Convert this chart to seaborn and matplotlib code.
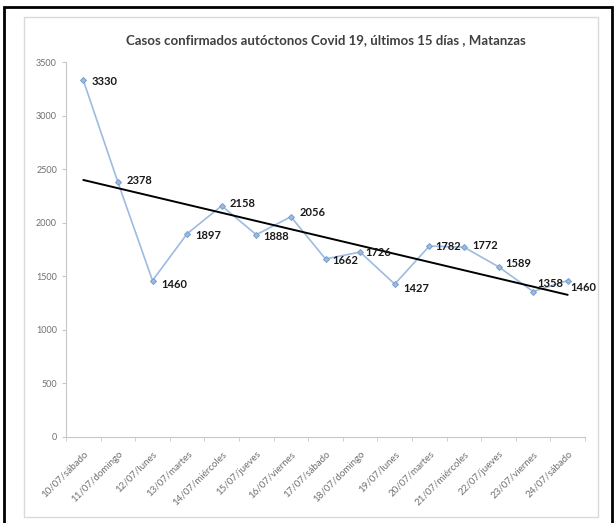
import numpy as np
import pandas as pd
import matplotlib
matplotlib.use("Agg")
import matplotlib.pyplot as plt
import seaborn as sns

fechas = ["10/07/sábado", "11/07/domingo", "12/07/lunes", "13/07/martes",
          "14/07/miércoles", "15/07/jueves", "16/07/viernes", "17/07/sábado",
          "18/07/domingo", "19/07/lunes", "20/07/martes", "21/07/miércoles",
          "22/07/jueves", "23/07/viernes", "24/07/sábado"]
casos = [3330, 2378, 1460, 1897, 2158, 1888, 2056, 1662,
         1726, 1427, 1782, 1772, 1589, 1358, 1460]
titulo = "Casos confirmados autóctonos Covid 19, últimos 15 días , Matanzas"

df = pd.DataFrame({"pos": np.arange(len(fechas)), "casos": casos})

sns.set_style("white")
plt.rcParams["font.family"] = ["Lato", "DejaVu Sans"]

W, H = 615, 523
fig = plt.figure(figsize=(W / 100, H / 100), dpi=100)

# outer black frame and inner grey chart border
fig.patches.append(plt.Rectangle((4 / W, -0.05), 608 / W, 1 - 7 / H + 0.05,
                                 transform=fig.transFigure, fill=False,
                                 edgecolor="black", linewidth=2))
fig.patches.append(plt.Rectangle((24 / W, 6 / H), 574 / W, 1 - 23 / H,
                                 transform=fig.transFigure, fill=False,
                                 edgecolor="#d9d9d9", linewidth=1))

ax = fig.add_axes([66 / W, (H - 437) / H, (585 - 66) / W, (437 - 62) / H])

sns.lineplot(data=df, x="pos", y="casos", ax=ax, color="#9dbbe0",
             marker="D", markersize=3, markeredgecolor="#7b9fcf",
             linewidth=1.2)
sns.regplot(data=df, x="pos", y="casos", ax=ax, scatter=False, ci=None,
            truncate=True, line_kws={"color": "black", "linewidth": 1.4})

# data labels
offsets = [(6, -1), (6, 1), (6, -3), (6, -1), (6, 2), (5, -1), (6, 3), (5, -1),
           (4, 0), (6, -3), (4, 0), (6, 1), (5, 2), (3, 6), (2, -5)]
for x, y, off in zip(df["pos"], df["casos"], offsets):
    ax.annotate(str(y), (x, y), xytext=off, textcoords="offset points",
                ha="left", va="center", fontsize=8, fontweight="bold",
                color="#1a1a1a")

ax.set_xlim(-0.5, len(fechas) - 0.5)
ax.set_ylim(0, 3500)
ax.set_yticks(range(0, 3501, 500))
ax.set_xticks(np.arange(len(fechas)))
ax.set_xticklabels(fechas, rotation=45, ha="right", rotation_mode="anchor",
                   fontsize=7, color="#707070")
ax.tick_params(axis="y", labelsize=6.5, labelcolor="#707070", length=3,
               color="#c8c8c8", direction="out", left=True)
ax.tick_params(axis="x", length=0, pad=9)
# boundary tick marks on the category axis
ax.set_xticks(np.arange(len(fechas) + 1) - 0.5, minor=True)
ax.tick_params(axis="x", which="minor", length=3, color="#c8c8c8",
               direction="out", bottom=True)
ax.set_xlabel("")
ax.set_ylabel("")
for side in ["top", "right"]:
    ax.spines[side].set_visible(False)
for side in ["left", "bottom"]:
    ax.spines[side].set_color("#c8c8c8")
    ax.spines[side].set_linewidth(0.8)

fig.text(326 / W, 1 - 40 / H, titulo, ha="center", va="center",
         fontsize=9.5, fontweight="bold", color="#404040")

fig.savefig("out.png", dpi=100)
